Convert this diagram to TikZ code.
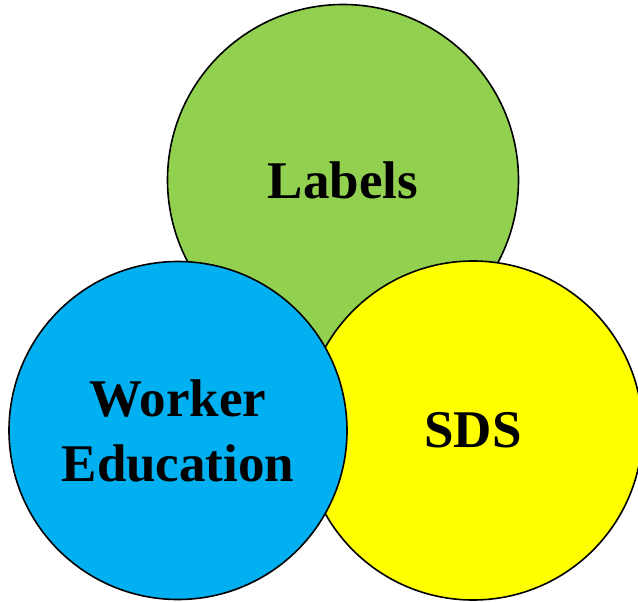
\documentclass[tikz,border=0pt]{standalone}
\usepackage{fontspec}
\setmainfont{Liberation Serif}
\definecolor{leafgreen}{HTML}{92D050}
\definecolor{skyblue}{HTML}{00B0F0}
\definecolor{brightyellow}{HTML}{FFFF00}
\begin{document}
\begin{tikzpicture}[x=1pt,y=-1pt,
  topic/.style={circle, draw=black, line width=1.6pt, inner sep=0pt,
    align=center, font=\fontsize{53}{65}\selectfont\bfseries}]
  % page frame; the right-hand circle runs past the edge and is cut off
  \clip (0,0) rectangle (638,602);
  \node[topic, fill=leafgreen, minimum size=351pt] (labels) at (343,180) {Labels};
  \node[topic, fill=brightyellow, minimum size=339pt] (sds) at (473,430.5) {SDS};
  \node[topic, fill=skyblue, minimum size=338pt] (worker) at (178,430.5) {Worker\\Education};
\end{tikzpicture}
\end{document}
